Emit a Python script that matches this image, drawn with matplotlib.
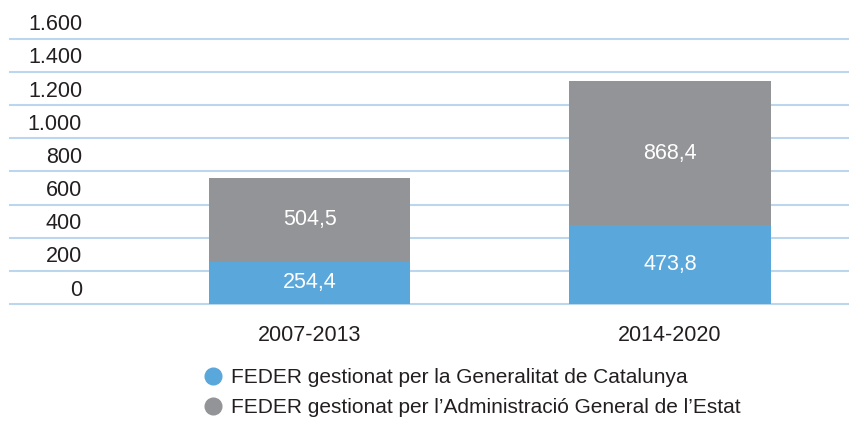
import matplotlib
matplotlib.use("Agg")
import matplotlib.pyplot as plt
from matplotlib.lines import Line2D
import matplotlib.transforms as mtransforms

categories = ["2007-2013", "2014-2020"]
generalitat = [254.4, 473.8]
estat = [504.5, 868.4]
generalitat_labels = ["254,4", "473,8"]
estat_labels = ["504,5", "868,4"]
yticks = [0, 200, 400, 600, 800, 1000, 1200, 1400, 1600]
ytick_labels = ["0", "200", "400", "600", "800", "1.000", "1.200", "1.400", "1.600"]
legend_labels = ["FEDER gestionat per la Generalitat de Catalunya",
                 "FEDER gestionat per l\u2019Administració General de l\u2019Estat"]

BLUE = "#5aa7db"
GRAY = "#939497"
GRID = "#bcd6ee"
TEXT = "#231f20"

plt.rcParams['font.family'] = ['Liberation Sans', 'DejaVu Sans']

W, H, DPI = 849, 424, 100
fig = plt.figure(figsize=(W / DPI, H / DPI), dpi=DPI)
ax_left, ax_right = 10, 849
ax_bottom, ax_top = 304, 38.7
ax = fig.add_axes([ax_left / W, 1 - ax_bottom / H, (ax_right - ax_left) / W, (ax_bottom - ax_top) / H])

x = list(range(len(categories)))
width = 0.56
b1 = ax.bar(x, generalitat, width=width, color=BLUE, zorder=2)
b2 = ax.bar(x, estat, width=width, bottom=generalitat, color=GRAY, zorder=2)
ax.bar_label(b1, labels=generalitat_labels, label_type='center', color='white', fontsize=15.5)
ax.bar_label(b2, labels=estat_labels, label_type='center', color='white', fontsize=15.5)

ax.set_ylim(0, 1600)
ax.set_xlim(-0.831, 1.4965)
for v in yticks:
    ax.axhline(v, color=GRID, linewidth=1.5, zorder=1, clip_on=False)
ax.set_yticks([])
ax.set_xticks(x)
ax.set_xticklabels(categories, fontsize=15.5, color=TEXT)
ax.tick_params(axis='x', length=0, pad=15)
for s in ax.spines.values():
    s.set_visible(False)

# y tick labels sitting above their gridlines, inside the plot area
trans = mtransforms.blended_transform_factory(ax.transAxes, ax.transData) + \
    mtransforms.ScaledTranslation(0, 14 / DPI, fig.dpi_scale_trans)
for v, lab in zip(yticks, ytick_labels):
    ax.text((82 - ax_left) / (ax_right - ax_left), v, lab, transform=trans,
            ha='right', va='center', fontsize=15.5, color=TEXT)

handles = [Line2D([], [], marker='o', ls='', color=BLUE, markersize=12),
           Line2D([], [], marker='o', ls='', color=GRAY, markersize=12)]
fig.legend(handles, legend_labels, loc='upper left', bbox_to_anchor=(205 / W, 1 - 368 / H),
           frameon=False, fontsize=15, handlelength=0.8, handletextpad=0.45,
           labelspacing=0.55, borderpad=0, borderaxespad=0, labelcolor=TEXT)

fig.savefig("out.png", dpi=DPI)
